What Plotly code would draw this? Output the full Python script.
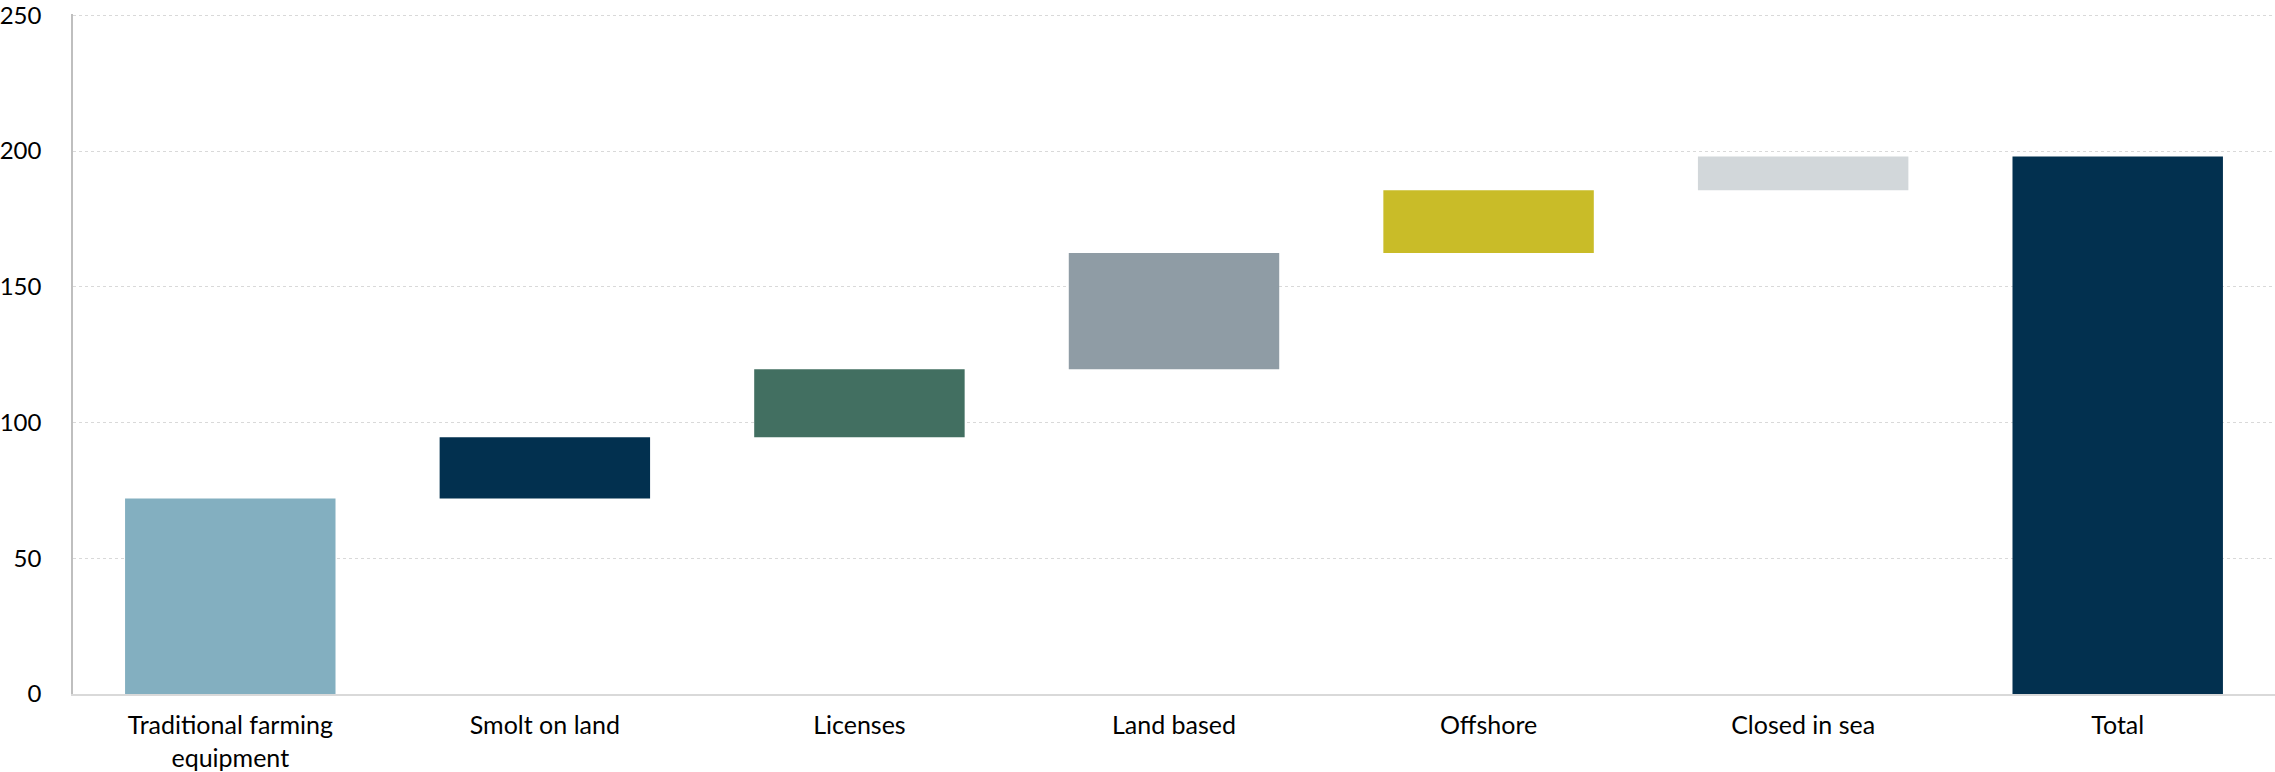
import numpy as np
import plotly.graph_objects as go

categories = ["Traditional farming<br>equipment", "Smolt on land", "Licenses",
              "Land based", "Offshore", "Closed in sea", "Total"]
steps = [72.0, 22.6, 25.0, 42.9, 23.1, 12.4]
colors = ["#83AFC0", "#02304F", "#426F61", "#8F9CA5", "#C9BC28", "#D2D7DA", "#02304F"]
y_ticks = [0, 50, 100, 150, 200, 250]

steps_arr = np.array(steps)
cum = np.cumsum(steps_arr)
bases = list(np.concatenate([[0.0], cum[:-1], [0.0]]))
heights = list(np.concatenate([steps_arr, [cum[-1]]]))

fig = go.Figure(go.Bar(
    x=categories, y=heights, base=bases,
    marker=dict(color=colors, line=dict(width=0)),
    hoverinfo="skip",
))

fig.update_layout(
    width=2275, height=772,
    margin=dict(l=67, r=0, t=12, b=77),
    paper_bgcolor="white", plot_bgcolor="white",
    bargap=0.331,
    showlegend=False,
    font=dict(family="Lato, Carlito, 'Open Sans', sans-serif", color="#000000"),
)
fig.update_yaxes(
    range=[0, 250.5], tickvals=y_ticks, ticktext=[str(v) for v in y_ticks],
    showgrid=True, gridcolor="#d9d9d9", griddash="dot", gridwidth=1,
    zeroline=False, showline=True, linecolor="#bfbfbf", linewidth=1.5,
    ticks="", ticklabelstandoff=25, tickfont=dict(size=24),
    ticklabeloverflow="allow",
)
fig.update_xaxes(
    showgrid=False, zeroline=False, showline=True, linecolor="#d9d9d9", linewidth=2,
    ticks="", ticklabelstandoff=8, tickfont=dict(size=25),
    ticklabeloverflow="allow",
)

fig.write_html("out.html")
